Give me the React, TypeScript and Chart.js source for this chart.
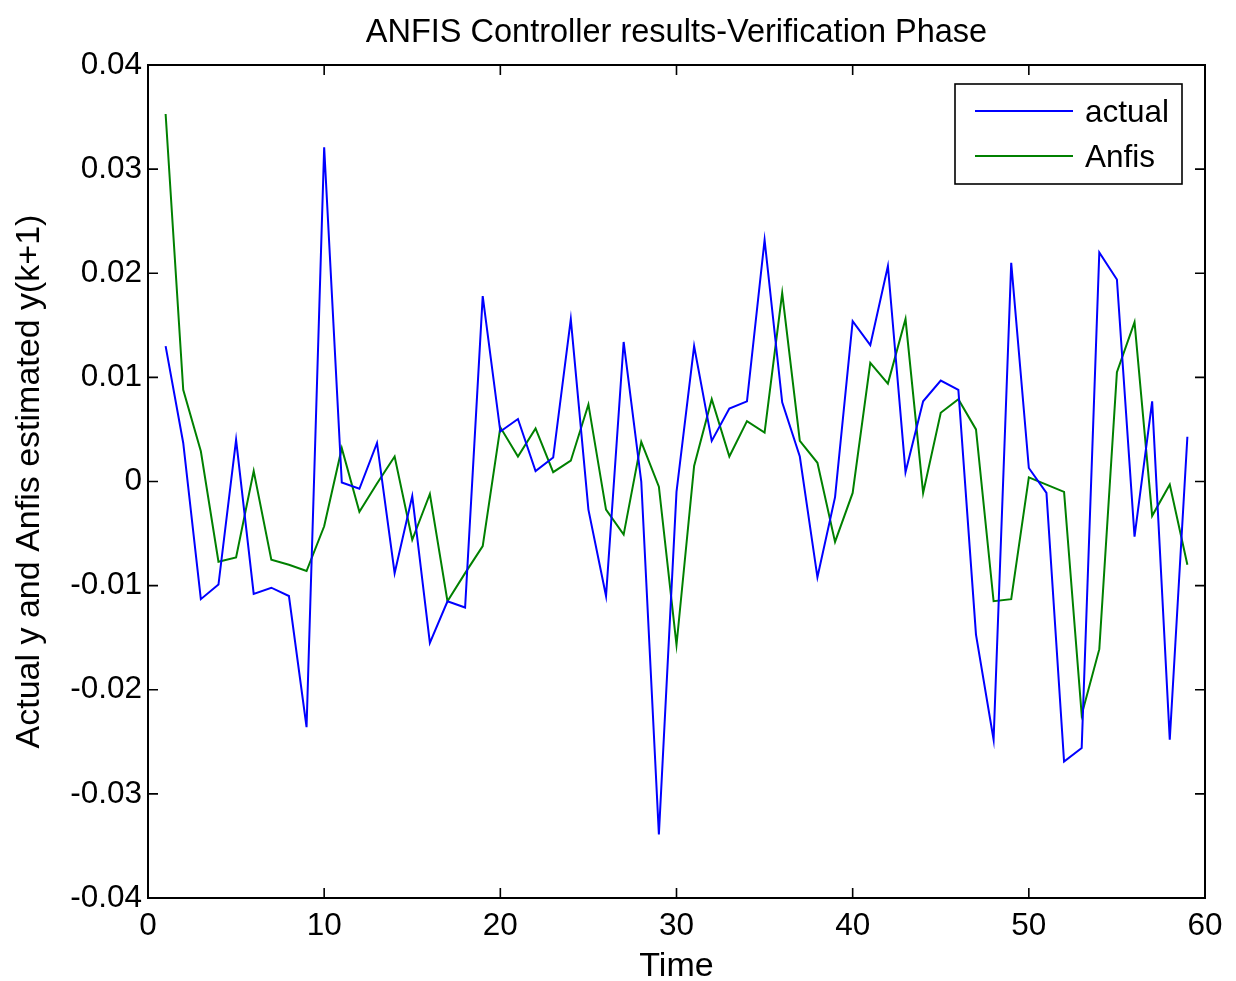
import React, { useEffect, useRef } from "react";
import { Chart, registerables } from "chart.js";

Chart.register(...registerables);

const chartTitle = "ANFIS Controller results-Verification Phase";
const xAxisTitle = "Time";
const yAxisTitle = "Actual y and Anfis estimated y(k+1)";

const timeSteps = [
  1, 2, 3, 4, 5, 6, 7, 8, 9, 10,
  11, 12, 13, 14, 15, 16, 17, 18, 19, 20,
  21, 22, 23, 24, 25, 26, 27, 28, 29, 30,
  31, 32, 33, 34, 35, 36, 37, 38, 39, 40,
  41, 42, 43, 44, 45, 46, 47, 48, 49, 50,
  51, 52, 53, 54, 55, 56, 57, 58, 59,
];

const actualValues = [
  0.013, 0.0037, -0.0113, -0.0099, 0.004, -0.0108, -0.0102, -0.011, -0.0236, 0.0321,
  -0.0001, -0.0007, 0.0037, -0.0088, -0.0014, -0.0155, -0.0115, -0.0121, 0.0178, 0.0048,
  0.006, 0.001, 0.0023, 0.0156, -0.0027, -0.011, 0.0134, 0.0, -0.0339, -0.001,
  0.013, 0.0039, 0.007, 0.0077, 0.0232, 0.0076, 0.0024, -0.0092, -0.0015, 0.0154,
  0.0131, 0.0207, 0.0009, 0.0077, 0.0097, 0.0088, -0.0147, -0.0248, 0.021, 0.0013,
  -0.0011, -0.0269, -0.0256, 0.022, 0.0194, -0.0053, 0.0077, -0.0248, 0.0043,
];

const anfisValues = [
  0.0353, 0.0088, 0.0029, -0.0077, -0.0073, 0.001, -0.0075, -0.008, -0.0086, -0.0043,
  0.0032, -0.0029, -0.0002, 0.0024, -0.0056, -0.0012, -0.0115, -0.0088, -0.0062, 0.0052,
  0.0024, 0.0051, 0.0009, 0.002, 0.0074, -0.0027, -0.0051, 0.0038, -0.0005, -0.0157,
  0.0015, 0.0079, 0.0024, 0.0058, 0.0047, 0.0181, 0.0039, 0.0018, -0.0058, -0.0011,
  0.0114, 0.0094, 0.0156, -0.0011, 0.0066, 0.0079, 0.005, -0.0115, -0.0113, 0.0004,
  -0.0003, -0.001, -0.0224, -0.0161, 0.0105, 0.0153, -0.0033, -0.0003, -0.008,
];

const seriesLabels = ["actual", "Anfis"];
const seriesColors = ["#0000ff", "#008000"];

const xTickValues = [0, 10, 20, 30, 40, 50, 60];
const xTickLabels = ["0", "10", "20", "30", "40", "50", "60"];
const yTickValues = [-0.04, -0.03, -0.02, -0.01, 0, 0.01, 0.02, 0.03, 0.04];
const yTickLabels = ["-0.04", "-0.03", "-0.02", "-0.01", "0", "0.01", "0.02", "0.03", "0.04"];

const FONT = "'Liberation Sans', Arial, Helvetica, sans-serif";

const framePlugin = {
  id: "matlabFrame",
  afterDraw(chart: any) {
    const { ctx, chartArea } = chart;
    const xs = chart.scales.x;
    const ys = chart.scales.y;
    const { left, right, top, bottom } = chartArea;
    const tl = 10;
    ctx.save();
    ctx.strokeStyle = "#000";
    ctx.lineWidth = 1.6;
    ctx.beginPath();
    xTickValues.forEach((v) => {
      const px = xs.getPixelForValue(v);
      ctx.moveTo(px, bottom);
      ctx.lineTo(px, bottom - tl);
      ctx.moveTo(px, top);
      ctx.lineTo(px, top + tl);
    });
    yTickValues.forEach((v) => {
      const py = ys.getPixelForValue(v);
      ctx.moveTo(left, py);
      ctx.lineTo(left + tl, py);
      ctx.moveTo(right, py);
      ctx.lineTo(right - tl, py);
    });
    ctx.stroke();
    ctx.lineWidth = 2;
    ctx.strokeRect(left, top, right - left, bottom - top);

    // legend inside the plot (top-right)
    const boxW = 227;
    const boxH = 100;
    const bx = right - 23 - boxW;
    const by = top + 19;
    ctx.fillStyle = "#fff";
    ctx.fillRect(bx, by, boxW, boxH);
    ctx.lineWidth = 1.6;
    ctx.strokeStyle = "#000";
    ctx.strokeRect(bx, by, boxW, boxH);
    ctx.font = `31.5px ${FONT}`;
    ctx.textBaseline = "alphabetic";
    ctx.textAlign = "left";
    chart.data.datasets.forEach((ds: any, i: number) => {
      const ly = by + 27 + i * 45;
      ctx.strokeStyle = ds.borderColor;
      ctx.lineWidth = 2;
      ctx.beginPath();
      ctx.moveTo(bx + 20, ly);
      ctx.lineTo(bx + 118, ly);
      ctx.stroke();
      ctx.fillStyle = "#000";
      ctx.fillText(ds.label, bx + 130, ly + 11);
    });
    ctx.restore();
  },
};

export default function App() {
  const canvasRef = useRef<HTMLCanvasElement | null>(null);

  useEffect(() => {
    if (!canvasRef.current) return;
    Chart.defaults.font.family = FONT;
    Chart.defaults.color = "#000";
    const chart = new Chart(canvasRef.current, {
      type: "line",
      data: {
        datasets: [
          {
            label: seriesLabels[0],
            data: timeSteps.map((t, i) => ({ x: t, y: actualValues[i] })),
            borderColor: seriesColors[0],
            backgroundColor: seriesColors[0],
            borderWidth: 2,
            pointRadius: 0,
            tension: 0,
            fill: false,
          },
          {
            label: seriesLabels[1],
            data: timeSteps.map((t, i) => ({ x: t, y: anfisValues[i] })),
            borderColor: seriesColors[1],
            backgroundColor: seriesColors[1],
            borderWidth: 2,
            pointRadius: 0,
            tension: 0,
            fill: false,
          },
        ],
      },
      options: {
        responsive: false,
        animation: false,
        layout: { padding: { top: 0, right: 31, bottom: 0, left: 0 } },
        plugins: {
          legend: { display: false },
          tooltip: { enabled: false },
          title: {
            display: true,
            text: chartTitle,
            fullSize: false,
            color: "#000",
            font: { size: 32.5, weight: "normal", lineHeight: 1.2 },
            padding: { top: 14, bottom: 12 },
          },
        },
        scales: {
          x: {
            type: "linear",
            min: 0,
            max: 60,
            afterBuildTicks: (scale: any) => {
              scale.ticks = xTickValues.map((v) => ({ value: v }));
            },
            afterFit: (scale: any) => {
              scale.height = 83;
            },
            ticks: {
              font: { size: 31.5 },
              color: "#000",
              padding: 9,
              maxRotation: 0,
              autoSkip: false,
              callback: (v: any) => {
                const i = xTickValues.indexOf(Number(v));
                return i >= 0 ? xTickLabels[i] : "";
              },
            },
            grid: { display: false, drawTicks: false },
            border: { display: false },
            title: {
              display: true,
              text: xAxisTitle,
              color: "#000",
              font: { size: 34, lineHeight: 1 },
              padding: { top: 0, bottom: -3 },
            },
          },
          y: {
            type: "linear",
            min: -0.04,
            max: 0.04,
            afterBuildTicks: (scale: any) => {
              scale.ticks = yTickValues.map((v) => ({ value: v }));
            },
            afterFit: (scale: any) => {
              scale.width = 148;
            },
            ticks: {
              font: { size: 31.5 },
              color: "#000",
              padding: 6,
              autoSkip: false,
              callback: (v: any) => {
                const i = yTickValues.findIndex((t) => Math.abs(t - Number(v)) < 1e-9);
                return i >= 0 ? yTickLabels[i] : "";
              },
            },
            grid: { display: false, drawTicks: false },
            border: { display: false },
            title: {
              display: true,
              text: yAxisTitle,
              color: "#000",
              font: { size: 34, lineHeight: 1 },
              padding: { top: 13, bottom: 0 },
            },
          },
        },
      },
      plugins: [framePlugin],
    });
    return () => chart.destroy();
  }, []);

  return (
    <div style={{ position: "absolute", left: 0, top: 0, width: 1236, height: 981, background: "#fff" }}>
      <canvas ref={canvasRef} width={1236} height={981} style={{ display: "block" }} />
    </div>
  );
}
